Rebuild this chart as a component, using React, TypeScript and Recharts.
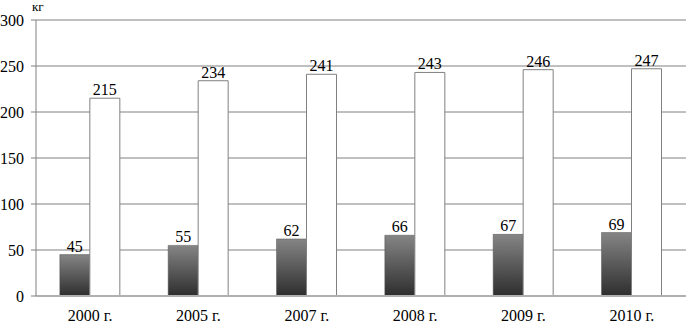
import { BarChart, Bar, XAxis, YAxis, CartesianGrid, LabelList } from 'recharts';

const years = ['2000 г.', '2005 г.', '2007 г.', '2008 г.', '2009 г.', '2010 г.'];
const darkValues = [45, 55, 62, 66, 67, 69];
const whiteValues = [215, 234, 241, 243, 246, 247];
const yTicks = [0, 50, 100, 150, 200, 250, 300];

const data = years.map((year, i) => ({ year, dark: darkValues[i], white: whiteValues[i] }));

const font = '"Liberation Serif", "Times New Roman", serif';

export default function App() {
  return (
    <div style={{ position: 'absolute', left: 0, top: 0, width: 686, height: 323, background: '#fff' }}>
      <div style={{ position: 'absolute', left: 32, top: 0, fontFamily: font, fontSize: 13, lineHeight: '13px', color: '#000' }}>кг</div>
      <BarChart
        width={686}
        height={323}
        data={data}
        margin={{ top: 20, right: 0, bottom: 0, left: 0 }}
        barCategoryGap="22%"
        barGap={0}
      >
        <defs>
          <linearGradient id="darkGrad" x1="0" y1="0" x2="0" y2="1">
            <stop offset="0%" stopColor="#858585" />
            <stop offset="100%" stopColor="#2e2e2e" />
          </linearGradient>
        </defs>
        <CartesianGrid vertical={false} stroke="#808080" strokeWidth={1} />
        <XAxis
          dataKey="year"
          height={27}
          axisLine={{ stroke: '#b0b0b0', strokeWidth: 2 }}
          tickLine={false}
          tick={{ fill: '#000', fontFamily: font, fontSize: 16 }}
          tickMargin={8}
        />
        <YAxis
          width={36}
          domain={[0, 300]}
          ticks={yTicks}
          interval={0}
          axisLine={{ stroke: '#808080' }}
          tickLine={{ stroke: '#808080' }}
          tickSize={5}
          tickMargin={7}
          tick={{ fill: '#000', fontFamily: font, fontSize: 16 }}
        />
        <Bar dataKey="dark" fill="url(#darkGrad)" stroke="#555" strokeWidth={0.5} isAnimationActive={false}>
          <LabelList dataKey="dark" position="top" offset={3} fill="#000" fontFamily={font} fontSize={16} />
        </Bar>
        <Bar dataKey="white" fill="#fff" stroke="#808080" strokeWidth={1} isAnimationActive={false}>
          <LabelList dataKey="white" position="top" offset={3} fill="#000" fontFamily={font} fontSize={16} />
        </Bar>
      </BarChart>
    </div>
  );
}
